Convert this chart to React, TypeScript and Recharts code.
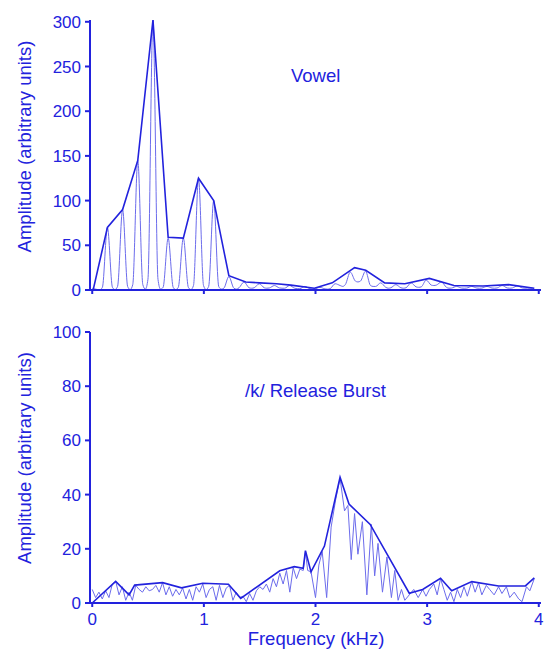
import React from 'react';
import { LineChart, Line, XAxis, YAxis } from 'recharts';

const BLUE = '#2222dd';
const THIN = '#6c6cec';
const FONT = '"Liberation Sans", Arial, sans-serif';

const freqTicks = [0, 1, 2, 3, 4];
const vowelTicks = [0, 50, 100, 150, 200, 250, 300];
const burstTicks = [0, 20, 40, 60, 80, 100];

// vowel spectrum: each harmonic as base / peak / base, then the trough (kHz)
const vowelFreq = [
  0, 0.068,
  0.091, 0.136, 0.181, 0.204,
  0.227, 0.272, 0.317, 0.34,
  0.363, 0.408, 0.453, 0.476,
  0.499, 0.544, 0.589, 0.612,
  0.635, 0.68, 0.725, 0.748,
  0.771, 0.816, 0.861, 0.884,
  0.907, 0.952, 0.997, 1.02,
  1.043, 1.088, 1.133, 1.156,
  1.179, 1.224, 1.269, 1.292,
  1.315, 1.36, 1.405, 1.428,
  1.451, 1.496, 1.541, 1.564,
  1.587, 1.632, 1.677, 1.7,
  1.723, 1.768, 1.813, 1.836,
  1.859, 1.904, 1.949, 1.972,
  1.995, 2.04, 2.085, 2.108,
  2.131, 2.176, 2.221, 2.244,
  2.267, 2.312, 2.357, 2.38,
  2.403, 2.448, 2.493, 2.516,
  2.539, 2.584, 2.629, 2.652,
  2.675, 2.72, 2.765, 2.788,
  2.811, 2.856, 2.901, 2.924,
  2.947, 2.992, 3.037, 3.06,
  3.083, 3.128, 3.173, 3.196,
  3.219, 3.264, 3.309, 3.332,
  3.355, 3.4, 3.445, 3.468,
  3.491, 3.536, 3.581, 3.604,
  3.627, 3.672, 3.717, 3.74,
  3.763, 3.808, 3.853, 3.876,
  3.899, 3.944,
];
const vowelAmp = [
  2, 0.3,
  3, 70, 3, 0.5,
  4, 90, 4, 0.5,
  6, 145, 6, 1,
  12, 302, 12, 1,
  3, 58, 3, 0.5,
  3, 58, 3, 0.5,
  5, 125, 5, 0.5,
  4, 100, 4, 1,
  2, 15, 2, 1,
  2.5, 9, 2.5, 2,
  2.5, 7, 2.5, 2,
  2.3, 5, 2.3, 2,
  2, 5, 2, 1.5,
  1.5, 4, 1.5, 1,
  1.2, 3, 1.2, 1,
  1.5, 7, 5, 4,
  6, 20, 10, 9,
  10, 21, 5, 4,
  4, 8, 3, 2,
  2.5, 6, 2.5, 2,
  2.5, 8, 3.5, 3,
  3.5, 11, 5.5, 5,
  5.5, 9, 3, 2,
  2.2, 4, 2.2, 2,
  2.2, 4, 2.2, 2,
  2.2, 4, 2.2, 2,
  2.3, 5, 2.3, 2,
  2.3, 4.5, 2.3, 2,
  2.1, 2,
];

// vowel envelope
const vowelEnvFreq = [
  0.01, 0.136, 0.272, 0.408, 0.544, 0.68, 0.816, 0.952, 1.088, 1.224,
  1.375, 1.5, 1.65, 1.78, 1.99, 2.15, 2.35, 2.45, 2.62, 2.8,
  3.02, 3.24, 3.5, 3.73, 3.96,
];
const vowelEnvAmp = [
  1, 70, 90, 145, 302, 59, 58, 125, 100, 16,
  9, 8, 7, 5.5, 2, 8, 25, 22, 8, 7,
  13, 5, 4.5, 6, 2,
];

// /k/ burst spectrum
const burstFreq = [
  0, 0.03, 0.06, 0.09, 0.12, 0.15, 0.18, 0.21, 0.24, 0.27,
  0.3, 0.33, 0.36, 0.39, 0.42, 0.45, 0.48, 0.51, 0.54, 0.57,
  0.6, 0.63, 0.66, 0.69, 0.72, 0.75, 0.78, 0.81, 0.84, 0.87,
  0.9, 0.93, 0.96, 0.99, 1.02, 1.05, 1.08, 1.11, 1.14, 1.17,
  1.2, 1.23, 1.26, 1.29, 1.32, 1.35, 1.38, 1.41, 1.44, 1.47,
  1.5, 1.53, 1.56, 1.59, 1.62, 1.65, 1.68, 1.71, 1.74, 1.77,
  1.8, 1.83, 1.86, 1.89, 1.91, 1.93, 1.96, 2.0, 2.03, 2.06,
  2.1, 2.14, 2.18, 2.22, 2.26, 2.29, 2.32, 2.35, 2.38, 2.42,
  2.46, 2.5, 2.53, 2.56, 2.6, 2.64, 2.68, 2.71, 2.74, 2.77,
  2.8, 2.84, 2.88, 2.92, 2.96, 2.99, 3.02, 3.06, 3.09, 3.12,
  3.15, 3.18, 3.21, 3.24, 3.27, 3.3, 3.33, 3.36, 3.4, 3.43,
  3.46, 3.49, 3.53, 3.56, 3.6, 3.64, 3.67, 3.71, 3.74, 3.78,
  3.82, 3.85, 3.89, 3.92, 3.96,
];
const burstAmp = [
  5, 2, 4, 1.5, 4.5, 2, 7, 8, 3, 6,
  1, 4, 1, 6.5, 5, 4, 6, 4.5, 5, 6.5,
  4, 7.5, 3, 6, 2.5, 5, 3, 5.5, 1.5, 5,
  1, 6, 4, 7, 2, 5, 6, 1, 6.5, 2,
  5.5, 6.5, 1, 4, 2, 2.5, 0.5, 3.5, 1, 4.5,
  6, 5, 7, 4, 9, 6, 11, 7, 12, 4,
  13, 9, 12.5, 12, 19, 12, 11.5, 2, 14, 19,
  2, 28, 38, 46, 34, 36, 16, 33, 18, 30,
  3, 29, 10, 22, 4, 17, 2, 12, 1, 5,
  1, 3, 5, 2, 5, 2.5, 5, 7, 3, 9,
  5, 1, 4, 0.5, 5, 2, 6, 2.5, 8, 4,
  7.5, 3, 6.5, 5, 3, 6, 3.5, 6, 2, 4,
  1.5, 0.5, 6, 4.5, 9,
];

// burst envelope
const burstEnvFreq = [
  0, 0.21, 0.33, 0.38, 0.63, 0.8, 0.99, 1.22, 1.33, 1.68,
  1.81, 1.89, 1.91, 1.96, 2.08, 2.22, 2.3, 2.49, 2.84, 2.96,
  3.12, 3.22, 3.4, 3.64, 3.88, 3.96,
];
const burstEnvAmp = [
  0, 8, 3, 6.6, 7.5, 5.6, 7.3, 6.9, 1.7, 11.9,
  13.4, 12.8, 19.3, 11.5, 21, 46.4, 36.5, 29, 3.6, 5,
  9.1, 4.5, 7.9, 6.3, 6.3, 9.3,
];

const toRows = (f: number[], a: number[]) => f.map((x, i) => ({ f: x, a: a[i] }));

const vowelRows = toRows(vowelFreq, vowelAmp);
const vowelEnvRows = toRows(vowelEnvFreq, vowelEnvAmp);
const burstRows = toRows(burstFreq, burstAmp);
const burstEnvRows = toRows(burstEnvFreq, burstEnvAmp);

const tickStyle = { fill: BLUE, fontSize: 17, fontFamily: FONT };
const axisStroke = { stroke: BLUE, strokeWidth: 2 };

export default function App() {
  return (
    <div style={{ position: 'absolute', left: 0, top: 0, width: 545, height: 654, background: '#fff' }}>
      <div style={{ position: 'absolute', left: 0, top: 0 }}>
        <LineChart width={545} height={300} margin={{ top: 20, right: 4, bottom: 0, left: 0 }}>
          <XAxis
            type="number"
            dataKey="f"
            domain={[-0.02, 4.02]}
            ticks={freqTicks}
            interval={0}
            height={10}
            tickSize={4}
            tickFormatter={() => ''}
            axisLine={axisStroke}
            tickLine={axisStroke}
          />
          <YAxis
            type="number"
            domain={[0, 300]}
            ticks={vowelTicks}
            interval={0}
            width={90}
            tickSize={5}
            tickMargin={4}
            tick={tickStyle}
            axisLine={axisStroke}
            tickLine={axisStroke}
          />
          <Line data={vowelRows} dataKey="a" type="monotone" stroke={THIN} strokeWidth={1} dot={false} isAnimationActive={false} />
          <Line data={vowelEnvRows} dataKey="a" type="linear" stroke={BLUE} strokeWidth={1.6} dot={false} isAnimationActive={false} />
        </LineChart>
      </div>
      <div style={{ position: 'absolute', left: 0, top: 300 }}>
        <LineChart width={545} height={354} margin={{ top: 32, right: 4, bottom: 0, left: 0 }}>
          <XAxis
            type="number"
            dataKey="f"
            domain={[-0.02, 4.02]}
            ticks={freqTicks}
            interval={0}
            height={51}
            tickSize={4}
            tickMargin={6}
            tick={tickStyle}
            axisLine={axisStroke}
            tickLine={axisStroke}
          />
          <YAxis
            type="number"
            domain={[0, 100]}
            ticks={burstTicks}
            interval={0}
            width={90}
            tickSize={5}
            tickMargin={4}
            tick={tickStyle}
            axisLine={axisStroke}
            tickLine={axisStroke}
          />
          <Line data={burstRows} dataKey="a" type="linear" stroke={THIN} strokeWidth={1} dot={false} isAnimationActive={false} />
          <Line data={burstEnvRows} dataKey="a" type="linear" stroke={BLUE} strokeWidth={1.6} dot={false} isAnimationActive={false} />
        </LineChart>
      </div>
      <svg width={545} height={654} style={{ position: 'absolute', left: 0, top: 0, pointerEvents: 'none' }}>
        <g fill={BLUE} fontFamily={FONT} fontSize={18.5}>
          <text x={291} y={82}>Vowel</text>
          <text x={245} y={397}>/k/ Release Burst</text>
          <text transform="translate(31,146.5) rotate(-90)" textAnchor="middle">Amplitude (arbitrary units)</text>
          <text transform="translate(31,458) rotate(-90)" textAnchor="middle">Amplitude (arbitrary units)</text>
          <text x={316} y={645} textAnchor="middle">Frequency (kHz)</text>
        </g>
      </svg>
    </div>
  );
}
